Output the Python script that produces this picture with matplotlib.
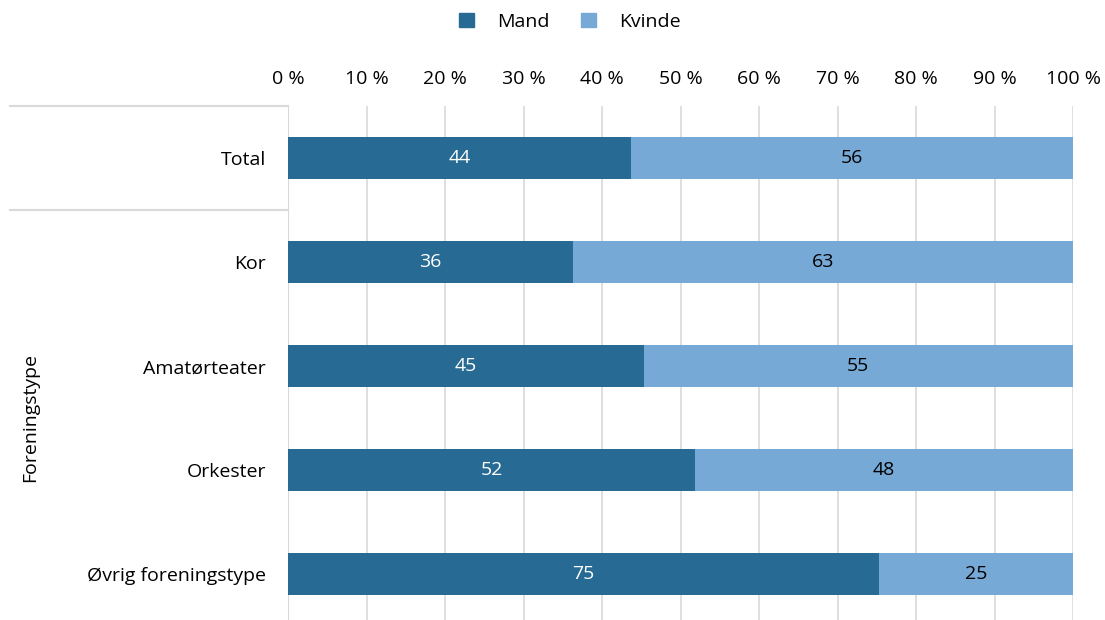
import matplotlib
matplotlib.use("Agg")
import matplotlib.pyplot as plt
from matplotlib.lines import Line2D
from matplotlib.patches import Patch
import matplotlib.transforms as mtransforms

plt.rcParams['font.family'] = ['Open Sans', 'DejaVu Sans']

categories = ["Total", "Kor", "Amatørteater", "Orkester", "Øvrig foreningstype"]
mand = [43.7, 36.3, 45.3, 51.9, 75.3]
kvinde = [56.3, 63.7, 54.7, 48.1, 24.7]
mand_labels = ["44", "36", "45", "52", "75"]
kvinde_labels = ["56", "63", "55", "48", "25"]
xticks = [0, 10, 20, 30, 40, 50, 60, 70, 80, 90, 100]
xtick_labels = [f"{t} %" for t in xticks]

c_mand = "#276A93"
c_kvinde = "#76A9D6"
grid_c = "#D9D9D9"
fs = 14

fig = plt.figure(figsize=(11.05, 6.2), dpi=100)
ax = fig.add_axes([288/1105, 0, 785/1105, 1 - 106/620])

y = list(range(len(categories)))
ax.barh(y, mand, height=0.4, color=c_mand, zorder=3)
ax.barh(y, kvinde, left=mand, height=0.4, color=c_kvinde, zorder=3)

for i in y:
    ax.text(mand[i] / 2, i, mand_labels[i], ha="center", va="center",
            color="white", fontsize=fs, zorder=4)
    ax.text(mand[i] + kvinde[i] / 2, i, kvinde_labels[i], ha="center", va="center",
            color="black", fontsize=fs, zorder=4)

ax.set_xlim(0, 100)
ax.set_ylim(4.44, -0.5)
ax.xaxis.tick_top()
ax.set_xticks(xticks)
ax.set_xticklabels(xtick_labels, fontsize=fs)
ax.tick_params(axis="x", length=0, pad=13)
ax.set_yticks(y)
ax.set_yticklabels(categories, fontsize=fs)
ax.tick_params(axis="y", length=0, pad=16)
ax.grid(axis="x", color=grid_c, linewidth=1.2, zorder=0)
for s in ax.spines.values():
    s.set_visible(False)
ax.axvline(0, color=grid_c, linewidth=1.5, zorder=2)

trans = mtransforms.blended_transform_factory(fig.transFigure, ax.transData)
for yy in [-0.5, 0.5]:
    fig.add_artist(Line2D([10/1105, 288/1105], [yy, yy], transform=trans,
                          color=grid_c, linewidth=1.5))

fig.text(30/1105, 1 - 418/620, "Foreningstype", rotation=90, ha="center",
         va="center", fontsize=fs)

handles = [Patch(color=c_mand, label="Mand"), Patch(color=c_kvinde, label="Kvinde")]
fig.legend(handles=handles, loc="center", bbox_to_anchor=(570/1105, 1 - 22/620),
           ncol=2, frameon=False, fontsize=fs, handlelength=0.75, handleheight=0.75,
           handletextpad=1.2, columnspacing=1.6)

fig.savefig("out.png", dpi=100)
